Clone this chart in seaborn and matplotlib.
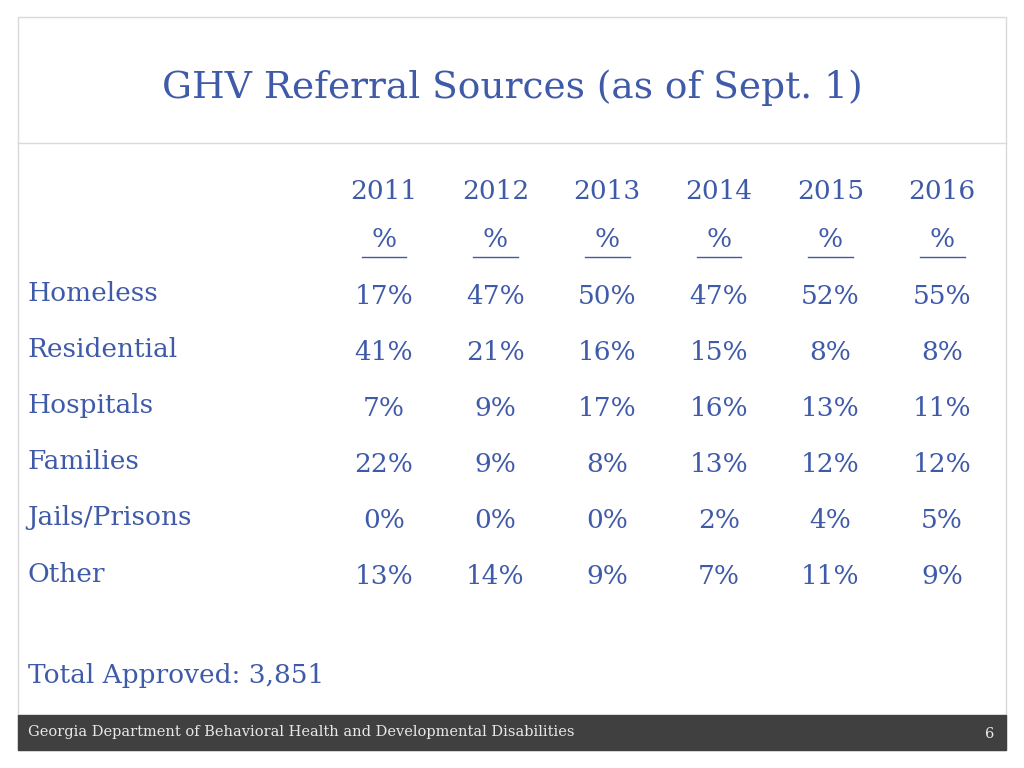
import numpy as np
import pandas as pd
import matplotlib
matplotlib.use("Agg")
import matplotlib.pyplot as plt
from matplotlib.colors import ListedColormap
import seaborn as sns

# table data
years = ["2011", "2012", "2013", "2014", "2015", "2016"]
sources = ["Homeless", "Residential", "Hospitals", "Families", "Jails/Prisons", "Other"]
pct_2011 = [17, 41, 7, 22, 0, 13]
pct_2012 = [47, 21, 9, 9, 0, 14]
pct_2013 = [50, 16, 17, 8, 0, 9]
pct_2014 = [47, 15, 16, 13, 2, 7]
pct_2015 = [52, 8, 13, 12, 4, 11]
pct_2016 = [55, 8, 11, 12, 5, 9]
total_approved = "3,851"

df = pd.DataFrame(
    dict(zip(years, [pct_2011, pct_2012, pct_2013, pct_2014, pct_2015, pct_2016])),
    index=sources)
labels = df.map(lambda v: f"{v}%")

blue = "#3F5AA8"
serif = "DejaVu Serif"
W, H = 1024, 768
fig = plt.figure(figsize=(W / 100, H / 100), dpi=100)
fig.patch.set_facecolor("white")

def fx(x): return x / W
def fy(y): return 1 - y / H

# slide frame
bg = fig.add_axes([0, 0, 1, 1])
bg.set_xlim(0, W); bg.set_ylim(H, 0); bg.axis("off")
bg.add_patch(plt.Rectangle((18, 17), 988, 733, fill=False, ec="#D9D9D9", lw=1))
bg.plot([18, 1006], [143, 143], color="#D9D9D9", lw=1)
bg.add_patch(plt.Rectangle((18, 715), 988, 35, color="#404040"))
bg.text(512, 88, "GHV Referral Sources (as of Sept. 1)", ha="center", va="center",
        fontsize=27, color=blue, family=serif)
bg.text(28, 732, "Georgia Department of Behavioral Health and Developmental Disabilities",
        ha="left", va="center", fontsize=10.5, color="#E8E8E8", family=serif)
bg.text(990, 734, "6", ha="center", va="center", fontsize=10.5, color="#E8E8E8", family=serif)
bg.text(28, 675, f"Total Approved: {total_approved}", ha="left", va="center",
        fontsize=19, color=blue, family=serif)

# table body via heatmap
ax = fig.add_axes([fx(328), fy(605), fx(998) - fx(328), fy(268) - fy(605)])
sns.heatmap(df, annot=labels, fmt="", cmap=ListedColormap(["white"]), cbar=False,
            annot_kws=dict(color=blue, fontsize=19, family=serif), ax=ax)
ax.set_xlabel(""); ax.set_ylabel("")
ax.tick_params(length=0)
ax.set_xticks([]); ax.set_yticks([])

# header and row labels drawn relative to the heatmap cells
for i, yr in enumerate(years):
    ax.text(i + 0.5, -1.37, yr, ha="center", va="center", fontsize=19,
            color=blue, family=serif, clip_on=False)
    ax.text(i + 0.5, -0.5, "%", ha="center", va="center", fontsize=19,
            color=blue, family=serif, clip_on=False)
    ax.plot([i + 0.3, i + 0.7], [-0.2, -0.2], color=blue, lw=1, clip_on=False)
for j, s in enumerate(sources):
    ax.text(-2.69, j + 0.45, s, ha="left", va="center", fontsize=19,
            color=blue, family=serif, clip_on=False)

fig.savefig("out.png", dpi=100)
